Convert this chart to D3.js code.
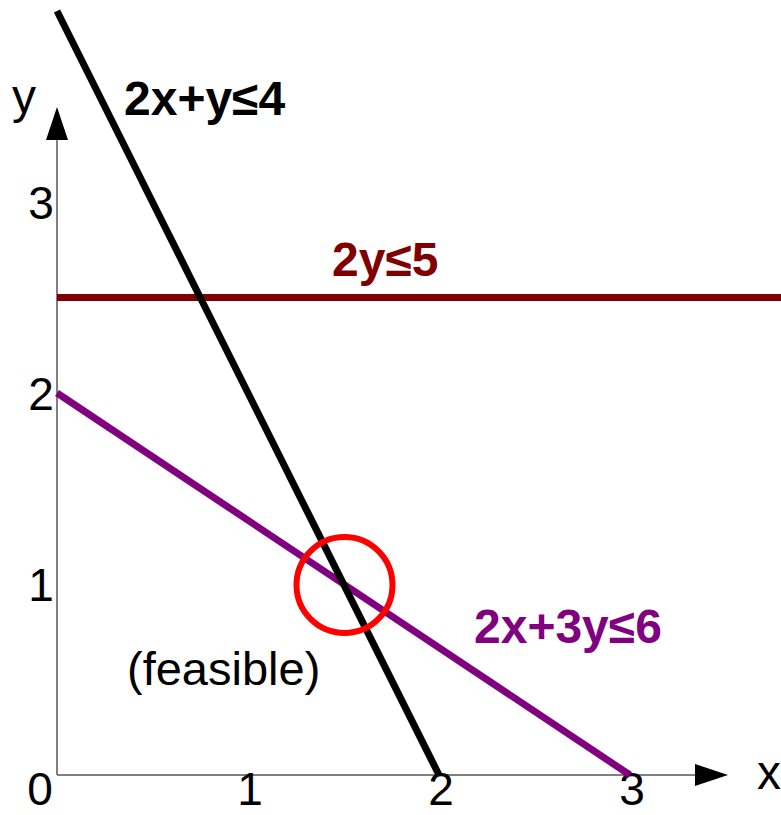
<!DOCTYPE html>
<html>
<head>
<meta charset="utf-8">
<script src="https://cdn.jsdelivr.net/npm/d3@7"></script>
<style>
  html, body { margin: 0; padding: 0; background: #fff; }
  svg { display: block; font-family: "Liberation Sans", Arial, sans-serif; }
</style>
</head>
<body>
<svg id="chart" width="781" height="815"></svg>
<script>
// Data
const xTicks = [1, 2, 3];
const yTicks = [1, 2, 3];
const originLabel = "0";
const constraintNames = ["2x+y≤4", "2y≤5", "2x+3y≤6"];
const line2xPlusY = [[0, 4], [2, 0]];
const line2y = [[0, 2.5], [3.8, 2.5]];
const line2xPlus3y = [[0, 2], [3, 0]];
const optimum = [1.5, 1];
const feasibleLabel = "(feasible)";

const svg = d3.select("#chart");
const x = d3.scaleLinear().domain([0, 3]).range([57, 630]);
const y = d3.scaleLinear().domain([0, 3]).range([775, 202]);

const axisColor = "#808080";
// axes
svg.append("line").attr("x1", x(0)).attr("y1", y(0)).attr("x2", 696).attr("y2", y(0))
  .attr("stroke", axisColor).attr("stroke-width", 2);
svg.append("line").attr("x1", x(0)).attr("y1", y(0)).attr("x2", x(0)).attr("y2", 139)
  .attr("stroke", axisColor).attr("stroke-width", 2);
// arrowheads
svg.append("path").attr("d", `M695,${y(0) - 11}L728,${y(0)}L695,${y(0) + 11}Z`).attr("fill", "#000");
svg.append("path").attr("d", `M${x(0) - 11},140L${x(0)},107L${x(0) + 11},140Z`).attr("fill", "#000");

// axis labels
svg.append("text").attr("x", 757).attr("y", 789).attr("font-size", 48).text("x");
svg.append("text").attr("x", 12).attr("y", 113).attr("font-size", 48).text("y");

// tick labels
svg.selectAll(".xt").data(xTicks).enter().append("text")
  .attr("x", d => x(d) + 2).attr("y", 805).attr("text-anchor", "middle")
  .attr("font-size", 46).text(d => d);
svg.selectAll(".yt").data(yTicks).enter().append("text")
  .attr("x", 41).attr("y", d => y(d) + 17).attr("text-anchor", "middle")
  .attr("font-size", 46).text(d => d);
svg.append("text").attr("x", 40).attr("y", 805).attr("text-anchor", "middle")
  .attr("font-size", 46).text(originLabel);

const lineGen = d3.line().x(d => x(d[0])).y(d => y(d[1]));

// constraint lines
svg.append("path").datum(line2y).attr("d", lineGen)
  .attr("stroke", "#800000").attr("stroke-width", 7).attr("fill", "none");
svg.append("path").datum(line2xPlus3y).attr("d", lineGen)
  .attr("stroke", "#800080").attr("stroke-width", 7).attr("fill", "none");
svg.append("path").datum(line2xPlusY).attr("d", lineGen)
  .attr("stroke", "#000000").attr("stroke-width", 7).attr("fill", "none");

// optimum circle
svg.append("circle").attr("cx", x(optimum[0]) + 1).attr("cy", y(optimum[1]) + 1).attr("r", 48)
  .attr("fill", "none").attr("stroke", "#ff0000").attr("stroke-width", 6);

// labels
svg.append("text").attr("x", 124).attr("y", 115).attr("font-size", 48).attr("font-weight", "bold")
  .attr("fill", "#000").text(constraintNames[0]);
svg.append("text").attr("x", 332).attr("y", 276).attr("font-size", 48).attr("font-weight", "bold")
  .attr("fill", "#800000").text(constraintNames[1]);
svg.append("text").attr("x", 474).attr("y", 643).attr("font-size", 48).attr("font-weight", "bold")
  .attr("fill", "#800080").text(constraintNames[2]);
svg.append("text").attr("x", 127).attr("y", 685).attr("font-size", 47)
  .attr("fill", "#000").text(feasibleLabel);
</script>
</body>
</html>
